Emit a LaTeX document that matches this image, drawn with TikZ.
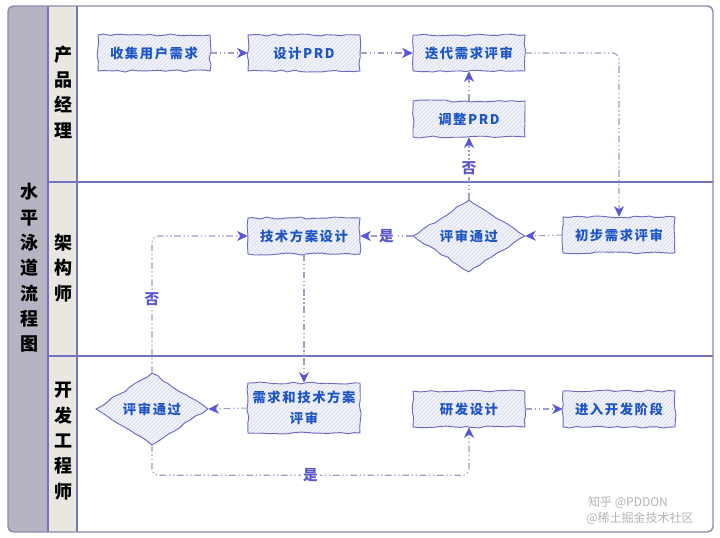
\documentclass[tikz,border=0pt]{standalone}
\usepackage{fontspec}
\setmainfont{Liberation Sans}
\newfontfamily\cjk[LetterSpace=12]{Noto Sans CJK SC}
\newfontfamily\cjklane{Noto Sans CJK SC}
\usetikzlibrary{shapes.geometric,arrows.meta,patterns,decorations.pathmorphing,calc}
\definecolor{lanefill}{HTML}{B7B3C3}
\definecolor{colfill}{HTML}{E9E7DF}
\definecolor{framec}{HTML}{8C8AA8}
\definecolor{laneline}{HTML}{7472C4}
\definecolor{edgec}{HTML}{A09EC4}
\definecolor{tipc}{HTML}{5A56D8}
\definecolor{txtc}{HTML}{1E56C6}
\definecolor{boxfill}{HTML}{F1F2F9}
\definecolor{hatchc}{HTML}{D8DAE8}
\definecolor{boxline}{HTML}{6E6AC2}
\definecolor{lblc}{HTML}{5A58CC}
\definecolor{wmc}{HTML}{B4B4B4}
\begin{document}
\begin{tikzpicture}[x=0.75pt,y=-0.75pt,
  sketch/.style={fill=boxfill,
    postaction={pattern=north east lines, pattern color=hatchc},
    postaction={draw=boxline, line width=0.7pt, decorate,
      decoration={random steps, segment length=5pt, amplitude=0.8pt}},
    font=\cjk\bfseries\fontsize{10}{13}\selectfont, text=txtc, align=center},
  flowbox/.style={sketch, rectangle, minimum width=84pt, minimum height=27pt, inner sep=1pt},
  decision/.style={sketch, diamond, minimum width=84pt, minimum height=54pt, inner sep=0pt},
  flow/.style={draw=edgec, line width=0.8pt,
    dash pattern=on 5pt off 2pt on 1pt off 2pt on 1pt off 2pt,
    rounded corners=5pt,
    -{Stealth[length=8pt,width=7.5pt,inset=2.5pt,color=tipc]}},
  lbl/.style={fill=white, text=lblc, font=\cjklane\bfseries\fontsize{11}{12}\selectfont, inner sep=1.5pt},
  lanetxt/.style={font=\cjklane\bfseries\fontsize{13.5}{19}\selectfont, text=black, align=center, inner sep=0pt},
  wmark/.style={text=wmc, font=\cjklane\fontsize{9}{10}\selectfont, inner sep=0pt}
]
\useasboundingbox (0,0) rectangle (720,538);
\fill[white] (0,0) rectangle (720,538);
% frame and lanes
\begin{scope}
  \clip[rounded corners=4] (8,6) rectangle (713,532);
  \fill[lanefill] (8,6) rectangle (48,532);
  \fill[colfill] (48,6) rectangle (77,532);
\end{scope}
\draw[laneline, line width=1pt] (48,6) -- (48,532);
\draw[laneline, line width=1pt] (77,6) -- (77,532);
\draw[laneline, line width=1pt] (48,182) -- (713,182);
\draw[laneline, line width=1pt] (48,356) -- (713,356);
\draw[framec, line width=1.1pt, rounded corners=4] (8,6) rectangle (713,532);
% lane titles
\node[lanetxt] (title) at (29,268) {水\\平\\泳\\道\\流\\程\\图};
\node[lanetxt] (lane1) at (63,92) {产\\品\\经\\理};
\node[lanetxt] (lane2) at (63,268) {架\\构\\师};
\node[lanetxt] (lane3) at (63,441) {开\\发\\工\\程\\师};
% nodes
\node[flowbox] (c1) at (154,53) {收集用户需求};
\node[flowbox] (c2) at (304,53) {设计PRD};
\node[flowbox] (c3) at (469,53) {迭代需求评审};
\node[flowbox] (c4) at (469,119) {调整PRD};
\node[decision] (d1) at (469,236) {评审通过};
\node[flowbox] (c6) at (619,235) {初步需求评审};
\node[flowbox] (c5) at (304,236) {技术方案设计};
\node[flowbox, minimum height=37.5pt] (c7) at (304,408) {需求和技术方案\\[3pt]评审};
\node[decision] (d2) at (152,409) {评审通过};
\node[flowbox] (c8) at (469,409) {研发设计};
\node[flowbox] (c9) at (619,409) {进入开发阶段};
% edges
\draw[flow] (c1.east) -- (c2.west);
\draw[flow] (c2.east) -- (c3.west);
\draw[flow] (c3.east) -| (c6.north);
\draw[flow] (c6.west) -- (d1.east);
\draw[flow] (d1.north) -- node[lbl]{否} (c4.south);
\draw[flow] (c4.north) -- (c3.south);
\draw[flow] (d1.west) -- node[lbl]{是} (c5.east);
\draw[flow] (c5.south) -- (c7.north);
\draw[flow] (c7.west) -- (d2.east);
\draw[flow] (d2.north) |- node[lbl, pos=0.27]{否} (c5.west);
\draw[flow] (d2.south) -- ++(0,30) -| node[lbl, pos=0.25]{是} (c8.south);
\draw[flow] (c8.east) -- (c9.west);
% watermark
\node[wmark] (wm1) at (628,502) {知乎 @PDDON};
\node[wmark] (wm2) at (640,518) {@稀土掘金技术社区};
\end{tikzpicture}
\end{document}
